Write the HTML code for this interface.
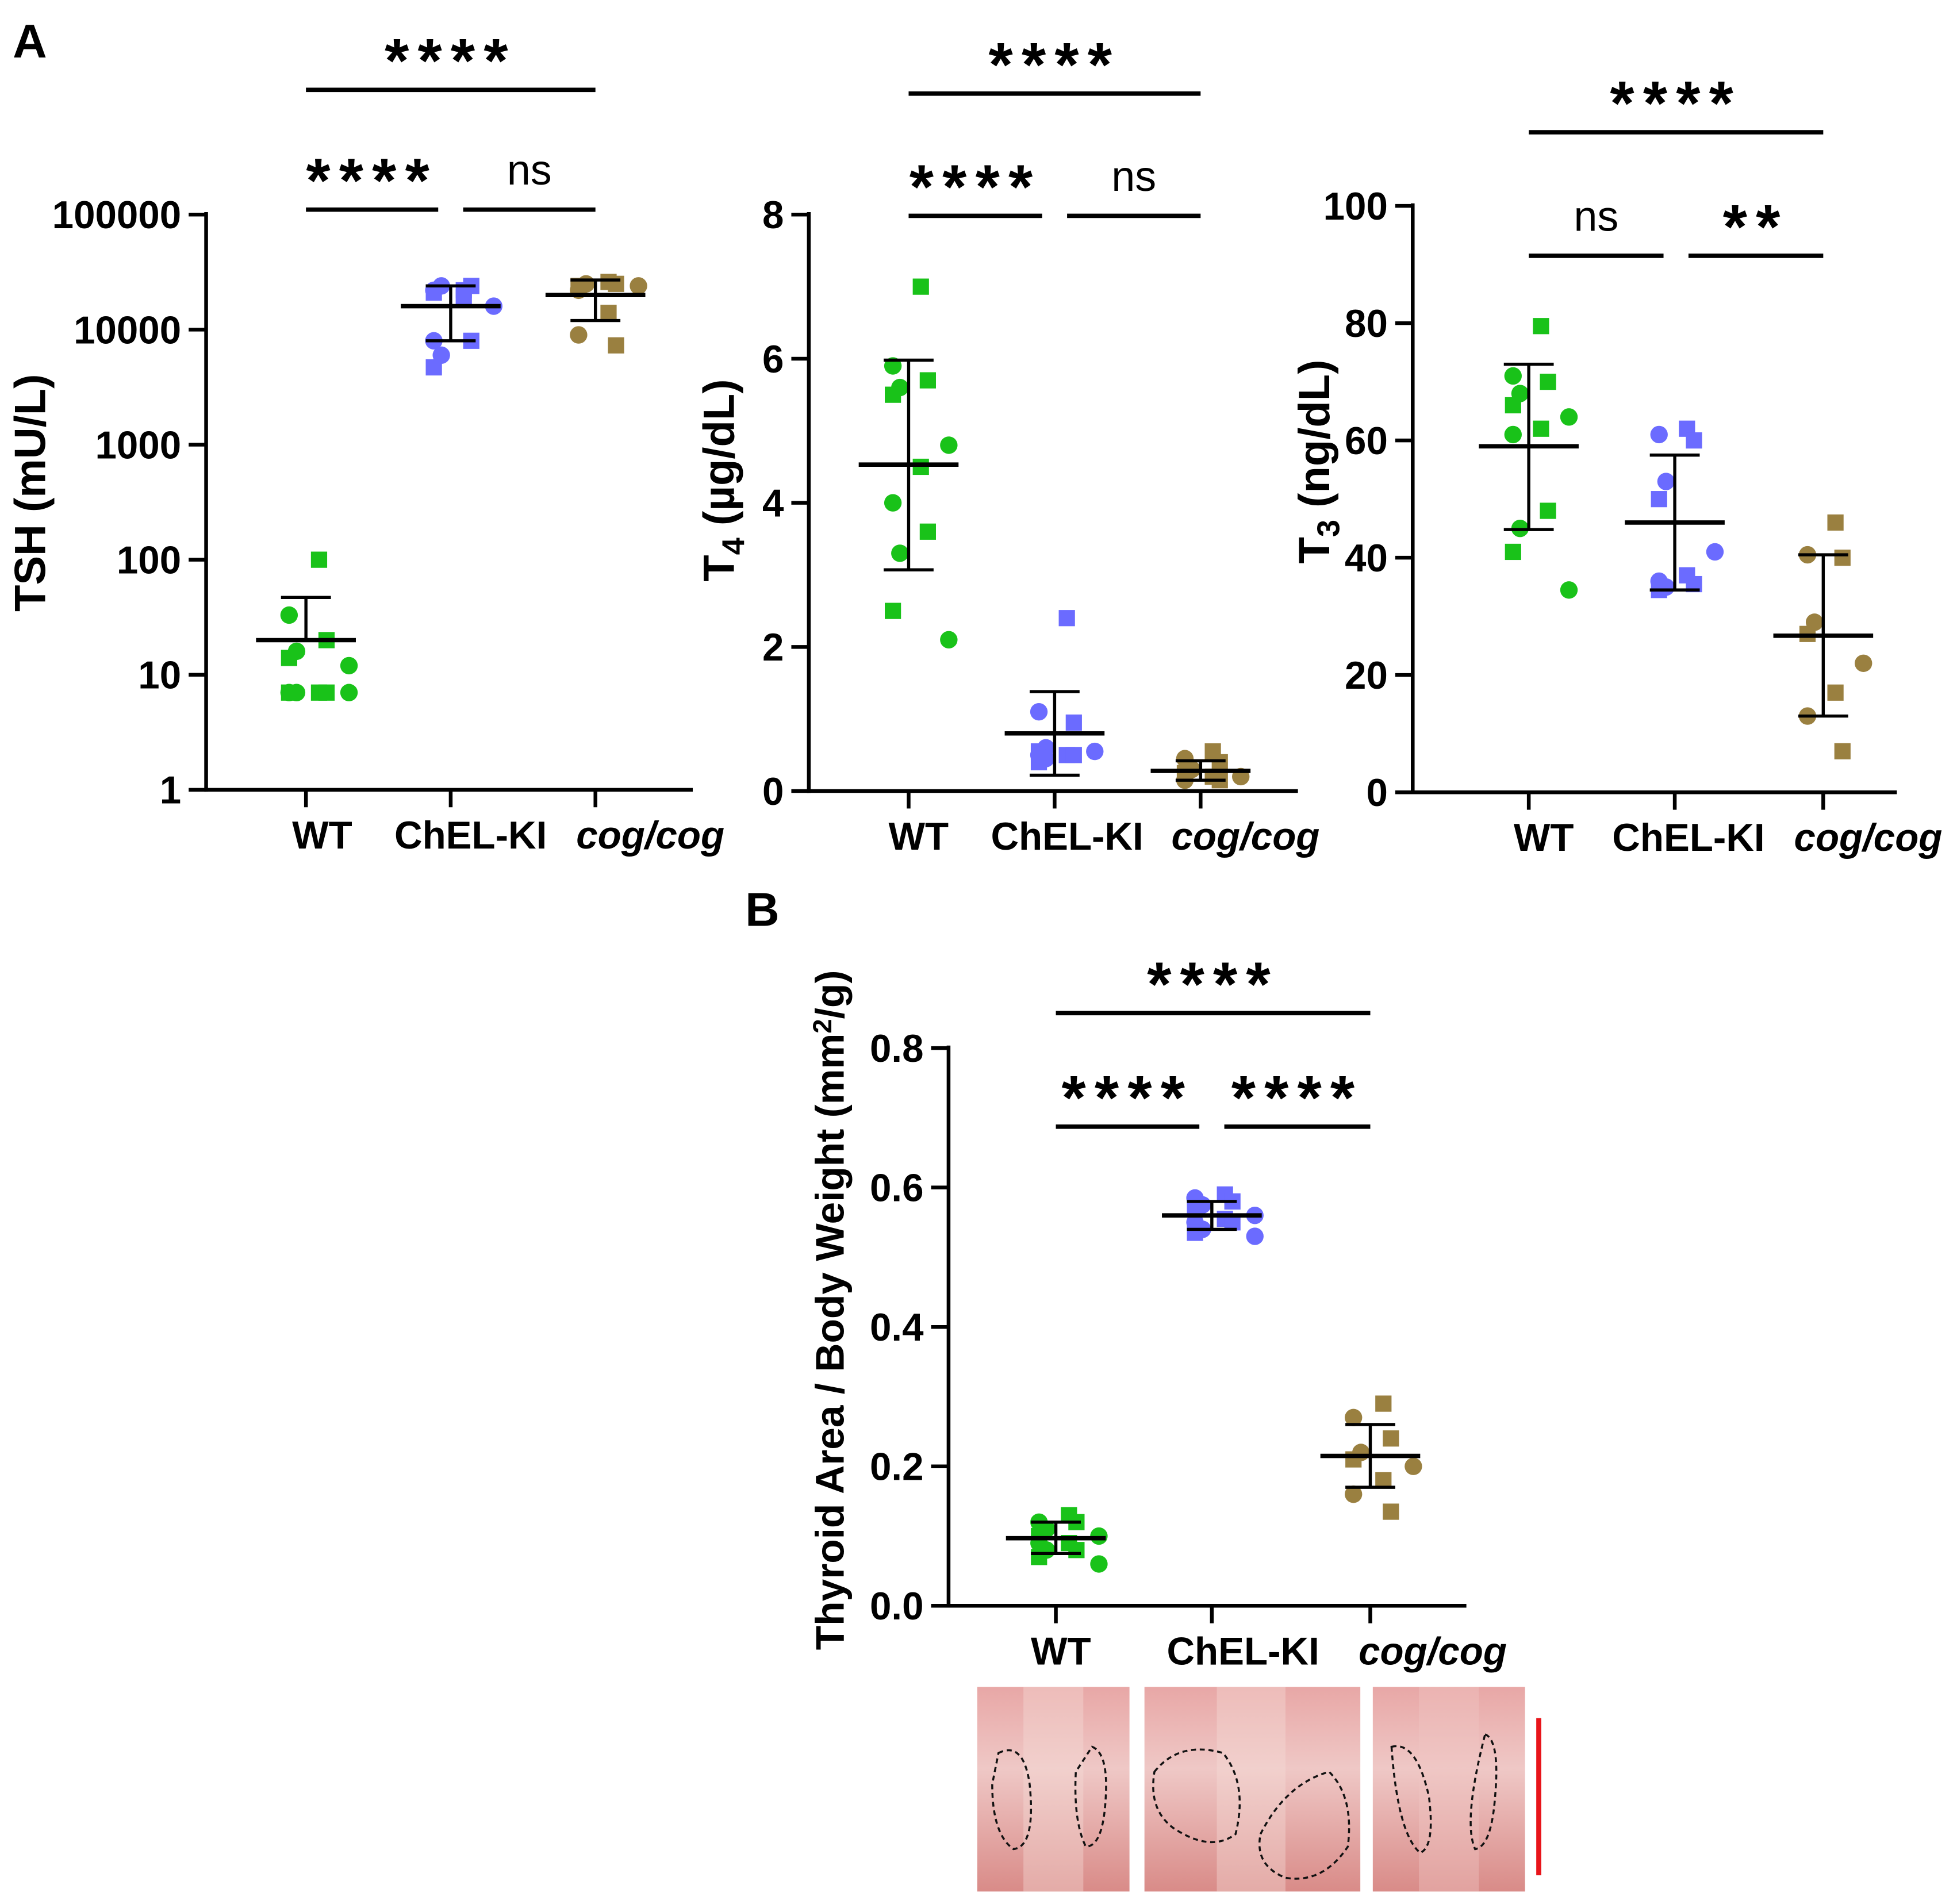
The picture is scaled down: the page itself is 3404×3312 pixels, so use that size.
<!DOCTYPE html>
<html><head><meta charset="utf-8"><style>
html,body{margin:0;padding:0;background:#fff;}
svg{display:block;font-family:"Liberation Sans",Arial,sans-serif;}
</style></head><body>
<svg id="fig" width="3404" height="3312" viewBox="0 0 1568 1526" xmlns="http://www.w3.org/2000/svg">
<defs>
<linearGradient id="tis" x1="0" y1="0" x2="0" y2="1"><stop offset="0" stop-color="#e8a7a6"/><stop offset="0.4" stop-color="#efc8c6"/><stop offset="1" stop-color="#d98b88"/></linearGradient>
</defs>
<text x="10" y="46" font-size="38" font-weight="bold">A</text>
<text x="597" y="742" font-size="38" font-weight="bold">B</text>
<g id="plots"></g>
<g>
<rect x="783" y="1352" width="122" height="164" fill="url(#tis)"/>
<rect x="917" y="1352" width="173" height="164" fill="url(#tis)"/>
<rect x="1100" y="1352" width="122" height="164" fill="url(#tis)"/>
<rect x="820" y="1352" width="48" height="164" fill="#f4dcd8" opacity="0.4"/>
<rect x="975" y="1352" width="55" height="164" fill="#f4dcd8" opacity="0.4"/>
<rect x="1137" y="1352" width="48" height="164" fill="#f0c6c2" opacity="0.4"/>
<g fill="none" stroke="#111" stroke-width="1.6" stroke-dasharray="4,3">
<path d="M800 1405 Q820 1395 825 1430 Q830 1480 812 1482 Q795 1470 795 1430 Z"/>
<path d="M875 1400 Q888 1405 886 1440 Q884 1480 870 1480 Q860 1460 862 1420 Z"/>
<path d="M925 1420 Q945 1395 980 1405 Q1000 1430 990 1470 Q970 1485 940 1465 Q920 1450 925 1420 Z"/>
<path d="M1010 1470 Q1030 1430 1065 1420 Q1085 1440 1080 1480 Q1060 1510 1030 1505 Q1005 1495 1010 1470 Z"/>
<path d="M1115 1400 Q1135 1395 1145 1440 Q1150 1480 1138 1485 Q1120 1470 1115 1400 Z"/>
<path d="M1190 1390 Q1202 1395 1198 1440 Q1195 1480 1182 1482 Q1172 1460 1190 1390 Z"/>
</g>
<rect x="1231" y="1377" width="4" height="126" fill="#e8141a"/>
</g>
</svg>
<script>
const NS="http://www.w3.org/2000/svg";
const groups=["WT","ChEL-KI","cog/cog"];
const colors=["#19c219","#6b6bff","#9a8040"];
// TSH (mU/L)
const tshWT=[100,33,20,16,14,12,7,7,7,7,7,7];
const tshKI=[22000,22000,24000,24000,21000,16000,19000,8000,8000,6000,4700];
const tshCog=[26000,22000,25000,25000,24000,24000,14000,9000,7300];
const tshMean=[20,16000,20000];
const tshLo=[20,8000,12000];
const tshHi=[47,24000,27000];
const tshTicks=[1,10,100,1000,10000,100000];
// T4 (ug/dL)
const t4WT=[7.0,5.9,5.7,5.6,5.5,4.8,4.5,4.0,3.6,3.3,2.5,2.1];
const t4KI=[2.4,1.1,0.95,0.6,0.55,0.55,0.5,0.5,0.5,0.45,0.4];
const t4Cog=[0.55,0.45,0.4,0.3,0.25,0.2,0.2,0.15,0.15];
const t4Mean=[4.53,0.8,0.28];
const t4Lo=[3.07,0.22,0.15];
const t4Hi=[5.98,1.38,0.42];
const t4Ticks=[0,2,4,6,8];
// T3 (ng/dL)
const t3WT=[79.5,71,70,68,66,64,62,61,48,45,41,34.5];
const t3KI=[62,61,60,53,50,41,37,36,35.5,35,34.5];
const t3Cog=[46,40.5,40,29,27,22,17,13,7];
const t3Mean=[59,46,26.7];
const t3Lo=[44.8,34.5,13];
const t3Hi=[73,57.5,40.5];
const t3Ticks=[0,20,40,60,80,100];
// Thyroid area / BW
const twWT=[0.13,0.12,0.12,0.11,0.10,0.10,0.09,0.09,0.08,0.08,0.07,0.06];
const twKI=[0.59,0.585,0.58,0.575,0.57,0.56,0.555,0.55,0.55,0.54,0.535,0.53];
const twCog=[0.29,0.27,0.24,0.22,0.21,0.20,0.18,0.16,0.135];
const twMean=[0.097,0.56,0.215];
const twLo=[0.075,0.54,0.17];
const twHi=[0.12,0.58,0.26];
const twTicks=["0.0","0.2","0.4","0.6","0.8"];

const root=document.getElementById('plots');
function mk(tag,attrs,parent){const e=document.createElementNS(NS,tag);for(const k in attrs)e.setAttribute(k,attrs[k]);(parent||root).appendChild(e);return e;}

function panel(o){
  const g=mk('g',{});
  
  
  const y=o.log?(v=>o.y0+(Math.log10(v)-o.lmin)/(o.lmax-o.lmin)*(o.y1-o.y0)):(v=>o.y0+(v-o.vmin)/(o.vmax-o.vmin)*(o.y1-o.y0));
  const ax=mk('line',{x1:o.ax,y1:o.y1-2,x2:o.ax,y2:o.y0+1.5,stroke:'#000','stroke-width':3},g);
  
  const xa=mk('line',{x1:o.ax-1.5,y1:o.y0,x2:o.xend,y2:o.y0,stroke:'#000','stroke-width':3},g);
  
  o.ticks.forEach(t=>{
    const yy=y(parseFloat(t));
    mk('line',{x1:o.ax-14,y1:yy,x2:o.ax,y2:yy,stroke:'#000','stroke-width':3},g);
    const tx=mk('text',{x:o.ax-20,y:yy+11,'font-size':31,'font-weight':'bold','text-anchor':'end'},g);
    tx.textContent=t;
    
  });
  o.cx.forEach((cx,i)=>{
    mk('line',{x1:cx,y1:o.y0,x2:cx,y2:o.y0+14,stroke:'#000','stroke-width':3},g);
    const tx=mk('text',{x:o.lx[i],y:o.y0+47,'font-size':31,'font-weight':'bold','text-anchor':'middle','font-style':i==2?'italic':'normal'},g);
    tx.textContent=groups[i];
    
  });
  const t=mk('text',{transform:`translate(${o.tx},${o.ty}) rotate(-90)`,'font-size':o.tfs||35,'font-weight':'bold','text-anchor':'middle'},g);
  t.innerHTML=o.title;
  
  o.data.forEach((arr,gi)=>{
    const cx=o.cx[gi];
    arr.forEach((v,i)=>{
      const off=((i%6)-2.5)*o.sp*(i%2?1:-1)*0.6+((i%3)-1)*o.sp*0.8;
      const px=cx+off, py=y(v);
      let m;
      if(i%2==0){m=mk('rect',{x:px-6.5,y:py-6.5,width:13,height:13,fill:colors[gi]},g);}
      else{m=mk('circle',{cx:px,cy:py,r:7,fill:colors[gi]},g);}
      
      
    });
    const my=y(o.mean[gi]);
    const ml=mk('line',{x1:cx-o.mw,y1:my,x2:cx+o.mw,y2:my,stroke:'#000','stroke-width':3.5},g);
    
    const eb=mk('path',{d:`M${cx} ${y(o.lo[gi])} V${y(o.hi[gi])} M${cx-20} ${y(o.lo[gi])} H${cx+20} M${cx-20} ${y(o.hi[gi])} H${cx+20}`,stroke:'#000','stroke-width':2.5,fill:'none'},g);
    
  });
  o.sig.forEach(s=>{
    const bl=mk('line',{x1:s[0],y1:s[2],x2:s[1],y2:s[2],stroke:'#000','stroke-width':3.5},g);
    
    const st=mk('text',{x:(s[0]+s[1])/2,y:s[2]-(s[3]=='ns'?20:6),'font-size':s[3]=='ns'?34:50,'font-weight':s[3]=='ns'?'normal':'bold','text-anchor':'middle','letter-spacing':s[3]=='ns'?0:7},g);
    st.textContent=s[3];
    
  });
}

panel({name:'tsh-chart',log:true,lmin:0,lmax:5,y0:633,y1:172,ax:165,xend:555,cx:[245,361,477],lx:[258,377,521],
 ticks:tshTicks,title:'TSH (mU/L)',tx:36,ty:395,data:[tshWT,tshKI,tshCog],mean:tshMean,lo:tshLo,hi:tshHi,sp:15,mw:40,
 sig:[[245,477,72,'****'],[245,351,168,'****'],[371,477,168,'ns']]});
panel({name:'t4-chart',vmin:0,vmax:8,y0:634,y1:172,ax:648,xend:1040,cx:[728,845,962],lx:[736,855,998],
 ticks:t4Ticks,title:'T<tspan dy="8" font-size="25">4</tspan><tspan dy="-8"> (µg/dL)</tspan>',tx:588,ty:385,data:[t4WT,t4KI,t4Cog],mean:t4Mean,lo:t4Lo,hi:t4Hi,sp:14,mw:40,
 sig:[[728,962,75,'****'],[728,835,173,'****'],[855,962,173,'ns']]});
panel({name:'t3-chart',vmin:0,vmax:100,y0:635,y1:165,ax:1132,xend:1520,cx:[1225,1342,1461],lx:[1237,1353,1497],
 ticks:t3Ticks,title:'T<tspan dy="8" font-size="25">3</tspan><tspan dy="-8"> (ng/dL)</tspan>',tx:1065,ty:370,data:[t3WT,t3KI,t3Cog],mean:t3Mean,lo:t3Lo,hi:t3Hi,sp:14,mw:40,
 sig:[[1225,1461,106,'****'],[1225,1333,205,'ns'],[1353,1461,205,'**']]});
panel({name:'thyroid-weight-chart',vmin:0,vmax:0.8,y0:1287,y1:840,ax:760,xend:1175,cx:[846,971,1098],lx:[850,996,1148],
 ticks:twTicks,title:'Thyroid Area / Body Weight (mm<tspan dy="-10" font-size="21">2</tspan><tspan dy="10">/g)</tspan>',tx:676,ty:1050,tfs:32,data:[twWT,twKI,twCog],mean:twMean,lo:twLo,hi:twHi,sp:15,mw:40,
 sig:[[846,1098,812,'****'],[846,961,903,'****'],[981,1098,903,'****']]});
</script>
</body></html>
